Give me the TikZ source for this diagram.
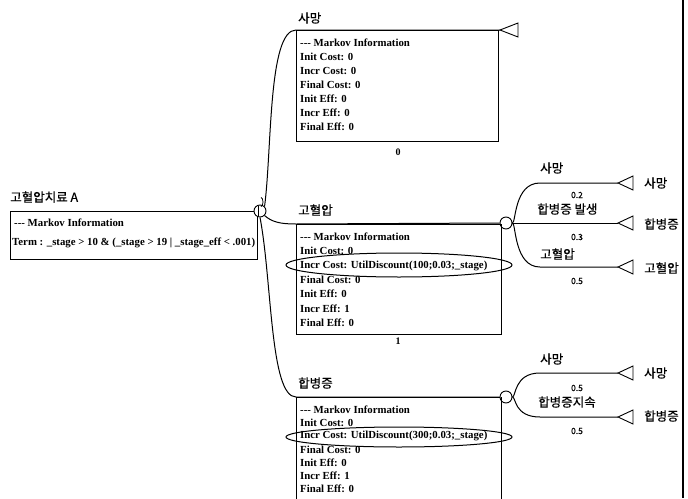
\documentclass[tikz,border=0pt]{standalone}
\usepackage{fontspec}
\setmainfont{Liberation Serif}
\newfontfamily\krfont[FakeBold=0.5]{Noto Sans CJK KR}
\begin{document}
\begin{tikzpicture}[x=1pt,y=-1pt,
  ln/.style={draw=black, line width=1pt},
  boxline/.style={draw=black, line width=1pt},
  btxt/.style={anchor=west, inner sep=0pt, font=\bfseries\fontsize{10.8}{11}\selectfont},
  krlab/.style={anchor=west, inner sep=0pt, font=\krfont\fontsize{12.5}{13}\selectfont},
  prob/.style={anchor=center, inner sep=0pt, font=\krfont\fontsize{8.5}{9}\selectfont},
  numlab/.style={anchor=center, inner sep=0pt, font=\bfseries\fontsize{10}{10}\selectfont},
  chance/.style={circle, draw=black, line width=0.9pt, fill=white, minimum size=12pt, inner sep=0pt},
  termtri/.style={draw=black, line width=0.9pt, fill=white}
]
\useasboundingbox (0,0) rectangle (688,498);
\fill[white] (0,0) rectangle (688,498);

% ---------- root ----------
\node[krlab] (rootlab) at (10,197) {고혈압치료 A};
\draw[boxline] (10,211) rectangle (257,259);
\node[btxt] (rt1) at (14,223) {-{}-{}- Markov Information};
\node[btxt] (rt2) at (12,243) {Term : \_stage > 10 \& (\_stage > 19 | \_stage\_eff < .001)};
\node[chance] (mk) at (260,211) {};
\draw[line width=0.8pt] (258.5,206) -- (258.5,216) (261,206.5) arc (90:-90:2 and 4.5);
\draw[ln] (10,211) -- (mk.west);

% ---------- state 1: 사망 ----------
\coordinate (s1) at (296,30);
\coordinate (t0) at (500,30);
\node[krlab] (s1lab) at (298,18) {사망};
\draw[boxline] (296,30) rectangle (498,141);
\foreach \t [count=\i] in {-{}-{}- Markov Information, Init Cost: 0, Incr Cost: 0, Final Cost: 0, Init Eff: 0, Incr Eff: 0, Final Eff: 0}{
  \pgfmathsetmacro{\yy}{43+14*(\i-1)}
  \node[btxt] (a\i) at (300,\yy) {\t};
}
\node[numlab] (s1n) at (398,152) {0};
\draw[ln] (mk.north east) .. controls (272,150) and (268,30) .. (s1) -- (t0);
\draw[termtri] (t0) -- ++(18,-7) -- ++(0,14) -- cycle;

% ---------- state 2: 고혈압 ----------
\coordinate (s2) at (296,224);
\node[chance] (c1) at (506,223) {};
\node[krlab] (s2lab) at (298,210) {고혈압};
\draw[boxline] (296,224) rectangle (501,334);
\foreach \t [count=\i] in {-{}-{}- Markov Information, Init Cost: 0, Incr Cost: UtilDiscount(100;0.03;\_stage), Final Cost: 0, Init Eff: 0, Incr Eff: 1, Final Eff: 0}{
  \pgfmathsetmacro{\yy}{237+14.3*(\i-1)}
  \node[btxt] (b\i) at (300,\yy) {\t};
}
\node[numlab] (s2n) at (398,341) {1};
\draw[line width=1pt] (399,265) ellipse [x radius=113pt, y radius=12pt];
\draw[ln] (mk.south east) .. controls (272,222) and (280,224) .. (s2) -- (c1.west);

% ---------- state 3: 합병증 ----------
\coordinate (s3) at (296,397);
\node[chance] (c2) at (506,397) {};
\node[krlab] (s3lab) at (298,383) {합병증};
\draw[boxline] (296,397) -- (500,397) (296,397) -- (296,500) (501,397) -- (501,500);
\foreach \t [count=\i] in {-{}-{}- Markov Information, Init Cost: 0, Incr Cost: UtilDiscount(300;0.03;\_stage), Final Cost: 0, Init Eff: 0, Incr Eff: 1, Final Eff: 0}{
  \pgfmathsetmacro{\yy}{410+13.2*(\i-1)}
  \node[btxt] (d\i) at (300,\yy) {\t};
}
\draw[line width=1pt] (399,437) ellipse [x radius=113pt, y radius=10pt];
\draw[ln] (mk.south) .. controls (272,280) and (270,397) .. (s3) -- (c2.west);

% ---------- transitions from 고혈압 ----------
\coordinate (p1) at (540,183);
\coordinate (p3) at (540,267);
\coordinate (e1) at (618,183);
\coordinate (e2) at (618,223);
\coordinate (e3) at (618,267);
\draw[ln] (c1.east) .. controls (516,223) and (514,183) .. (p1) -- (e1);
\draw[ln] (c1.east) -- (e2);
\draw[ln] (c1.east) .. controls (516,223) and (514,267) .. (p3) -- (e3);
\foreach \e in {e1,e2,e3}{ \draw[termtri] (\e) -- ++(15,-7) -- ++(0,14) -- cycle; }
\node[krlab] (l1) at (540,168) {사망};
\node[krlab] (l2) at (537,209) {합병증 발생};
\node[krlab] (l3) at (540,254) {고혈압};
\node[prob] (q1) at (577,195) {0.2};
\node[prob] (q2) at (577,237) {0.3};
\node[prob] (q3) at (577,281) {0.5};
\node[krlab] (r1) at (644,183) {사망};
\node[krlab] (r2) at (644,224) {합병증};
\node[krlab] (r3) at (644,268) {고혈압};

% ---------- transitions from 합병증 ----------
\coordinate (p4) at (540,373);
\coordinate (p5) at (540,417);
\coordinate (e4) at (618,373);
\coordinate (e5) at (618,417);
\draw[ln] (c2.east) .. controls (516,397) and (514,373) .. (p4) -- (e4);
\draw[ln] (c2.east) .. controls (516,397) and (514,417) .. (p5) -- (e5);
\foreach \e in {e4,e5}{ \draw[termtri] (\e) -- ++(15,-7) -- ++(0,14) -- cycle; }
\node[krlab] (l4) at (540,359) {사망};
\node[krlab] (l5) at (538,402) {합병증지속};
\node[prob] (q4) at (577,388) {0.5};
\node[prob] (q5) at (577,431) {0.5};
\node[krlab] (r4) at (644,373) {사망};
\node[krlab] (r5) at (644,416) {합병증};

% ---------- right frame ----------
\fill[white] (683.6,0) rectangle (688,498);
\draw[line width=1.4pt] (683,0) -- (683,498);
\end{tikzpicture}
\end{document}
